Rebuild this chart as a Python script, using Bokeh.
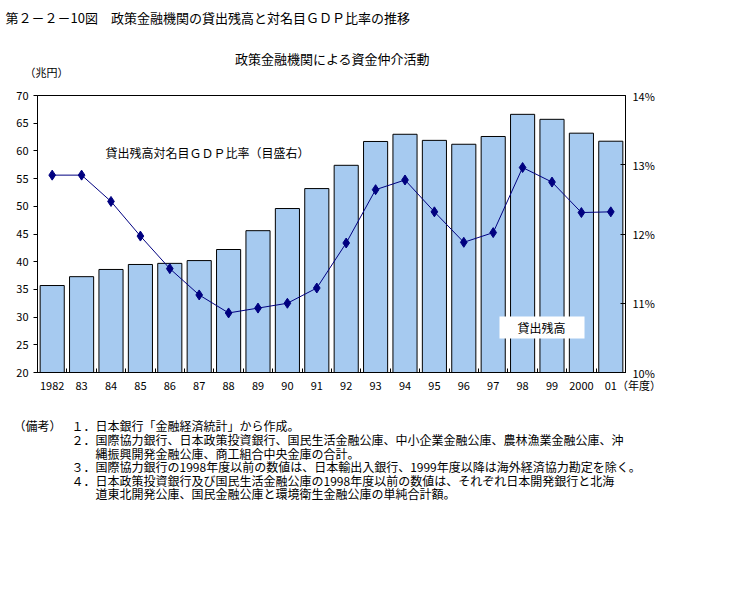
from bokeh.plotting import figure
from bokeh.layouts import column
from bokeh.models import (Range1d, LinearAxis, FixedTicker, PrintfTickFormatter,
                          Label, BoxAnnotation)
from bokeh.embed import file_html
from bokeh.resources import INLINE

# ---- data ----
years = ["1982", "83", "84", "85", "86", "87", "88", "89", "90", "91",
         "92", "93", "94", "95", "96", "97", "98", "99", "2000", "01"]
loans = [35.7, 37.3, 38.6, 39.5, 39.7, 40.2, 42.2, 45.6, 49.6, 53.2,
         57.4, 61.7, 63.0, 61.9, 61.2, 62.6, 66.6, 65.7, 63.2, 61.75]
gdp_ratio = [12.85, 12.85, 12.47, 11.97, 11.50, 11.12, 10.86, 10.93, 11.00, 11.22,
             11.87, 12.64, 12.78, 12.32, 11.88, 12.02, 12.96, 12.75, 12.31, 12.32]
left_ticks = [20, 25, 30, 35, 40, 45, 50, 55, 60, 65, 70]
right_ticks = [10, 11, 12, 13, 14]

title_text = "第２－２－10図　政策金融機関の貸出残高と対名目ＧＤＰ比率の推移"
subtitle_text = "政策金融機関による資金仲介活動"
unit_left = "（兆円）"
unit_x = "（年度）"
line_label = "貸出残高対名目ＧＤＰ比率（目盛右）"
bar_label = "貸出残高"
notes_head = "（備考）"
notes = [
    "１．日本銀行「金融経済統計」から作成。",
    "２．国際協力銀行、日本政策投資銀行、国民生活金融公庫、中小企業金融公庫、農林漁業金融公庫、沖",
    "縄振興開発金融公庫、商工組合中央金庫の合計。",
    "３．国際協力銀行の1998年度以前の数値は、日本輸出入銀行、1999年度以降は海外経済協力勘定を除く。",
    "４．日本政策投資銀行及び国民生活金融公庫の1998年度以前の数値は、それぞれ日本開発銀行と北海",
    "道東北開発公庫、国民金融公庫と環境衛生金融公庫の単純合計額。",
]

FONT = "Noto Sans CJK JP"
W = 720
HEAD_H = 80          # header strip: page y 0..80
MAIN_TOP = 15        # frame top at page y 95
FL, FW, FH = 37, 588, 277
MAIN_H = 320         # main strip: page y 80..400
NOTE_H = 172         # notes strip: page y 400..572


def text_fig(y0, h):
    f = figure(width=W, height=h, output_backend="svg", toolbar_location=None,
               x_range=Range1d(0, W), y_range=Range1d(y0 + h, y0),
               x_axis_type=None, y_axis_type=None,
               min_border=0, min_border_left=0, min_border_right=0,
               min_border_top=0, min_border_bottom=0, frame_align=False,
               background_fill_color="white", border_fill_color="white")
    f.outline_line_color = None
    f.grid.visible = False
    return f


def lab(f, px, py, text, size="12px", align="left"):
    f.add_layout(Label(x=px, y=py, text=text, text_font=FONT,
                       text_font_size=size, text_baseline="middle",
                       text_align=align, text_color="black"))


# ---- header ----
head = text_fig(0, HEAD_H)
lab(head, 5, 17, title_text, size="13px")
lab(head, 332, 58, subtitle_text, size="13px", align="center")
lab(head, 24, 71, unit_left, size="11px")

# ---- main chart ----
n = len(years)
xs = list(range(n))

p = figure(width=W, height=MAIN_H, output_backend="svg", toolbar_location=None,
           x_range=Range1d(-0.5, n - 0.5), y_range=Range1d(20, 70),
           min_border_left=FL, min_border_top=MAIN_TOP,
           min_border_right=W - FL - FW, min_border_bottom=MAIN_H - MAIN_TOP - FH,
           frame_align=False,
           background_fill_color="white", border_fill_color="white")
p.xgrid.visible = False
p.ygrid.visible = False
p.outline_line_color = "black"
p.outline_line_width = 1

ya = p.yaxis[0]
ya.ticker = FixedTicker(ticks=left_ticks)
ya.major_tick_out = 4
ya.major_tick_in = 0
ya.minor_tick_out = 0
ya.minor_tick_in = 0
ya.major_label_standoff = 5
ya.major_label_text_font = FONT
ya.major_label_text_font_size = "11px"
ya.major_label_text_color = "black"
ya.axis_line_color = "black"

xa = p.xaxis[0]
xa.ticker = FixedTicker(ticks=xs, minor_ticks=[i - 0.5 for i in range(n + 1)])
x_labels = {i: years[i] for i in xs}
x_labels[n - 1] = "\u3000\u3000\u3000\u3000" + years[n - 1] + unit_x
xa.major_label_overrides = x_labels
xa.major_tick_in = 0
xa.major_tick_out = 0
xa.minor_tick_in = 4
xa.minor_tick_out = 0
xa.major_label_standoff = 4
xa.major_label_text_font = FONT
xa.major_label_text_font_size = "11px"
xa.major_label_text_color = "black"
xa.axis_line_color = "black"

p.extra_y_ranges = {"pct": Range1d(10, 14)}
ra = LinearAxis(y_range_name="pct", ticker=FixedTicker(ticks=right_ticks),
                formatter=PrintfTickFormatter(format="%d%%"))
ra.major_tick_in = 5
ra.major_tick_out = 0
ra.minor_tick_in = 0
ra.minor_tick_out = 0
ra.major_label_standoff = 7
ra.major_label_text_font = FONT
ra.major_label_text_font_size = "11px"
ra.major_label_text_color = "black"
ra.axis_line_color = "black"
p.add_layout(ra, "right")

p.vbar(x=xs, top=loans, bottom=20, width=0.82, fill_color="#A6CAF0",
       line_color="black", line_width=1)

p.line(xs, gdp_ratio, y_range_name="pct", line_color="#000080", line_width=1)
p.scatter(xs, gdp_ratio, y_range_name="pct", marker="diamond", size=10,
          fill_color="#000080", line_color="#000080")


def dx(px):
    return (px - FL) / (FW / n) - 0.5


def dy(py):
    return 70 - (py - HEAD_H - MAIN_TOP) / (FH / 50)


p.add_layout(BoxAnnotation(left=dx(499), right=dx(584), top=dy(316), bottom=dy(338),
                           fill_color="white", fill_alpha=1.0, line_color=None))
p.add_layout(Label(x=dx(541), y=dy(327), text=bar_label, text_font=FONT,
                   text_font_size="12px", text_baseline="middle",
                   text_align="center", text_color="black"))
p.add_layout(Label(x=dx(105), y=dy(152), text=line_label, text_font=FONT,
                   text_font_size="12px", text_baseline="middle",
                   text_align="left", text_color="black"))

# ---- notes ----
foot = text_fig(HEAD_H + MAIN_H, NOTE_H)
lab(foot, 13, 425, notes_head)
note_x = [71, 71, 95, 71, 71, 95]
note_y = [425, 438.5, 452.5, 466, 479.5, 492.5]
for t, nx, ny in zip(notes, note_x, note_y):
    lab(foot, nx, ny, t)

layout = column(head, p, foot, spacing=0)
open("out.html", "w").write(file_html(layout, INLINE))
